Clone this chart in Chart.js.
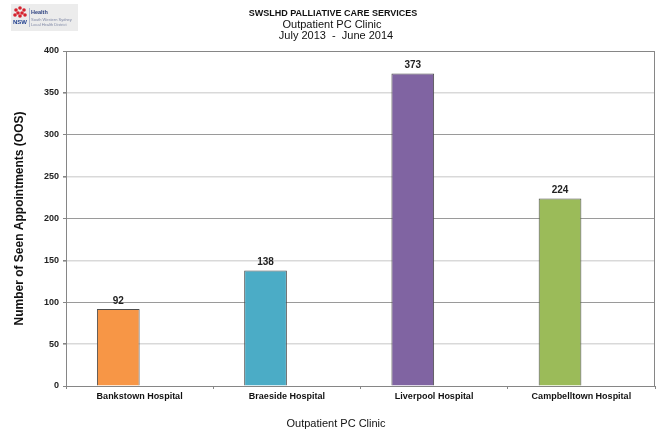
<!DOCTYPE html>
<html>
<head>
<meta charset="utf-8">
<script src="https://cdn.jsdelivr.net/npm/chart.js@4"></script>
<style>
  html, body { margin: 0; padding: 0; background: #fff; }
  #wrap { width: 661px; height: 432px; position: relative; }
</style>
</head>
<body>
<div id="wrap"><canvas id="myChart" width="661" height="432"></canvas></div>
<script>
// data
const clinics = ["Bankstown Hospital", "Braeside Hospital", "Liverpool Hospital", "Campbelltown Hospital"];
const seenAppointments = [92, 138, 373, 224];
const barColours = ["#F79646", "#4BACC6", "#8064A2", "#9BBB59"];
const yTicks = [0, 50, 100, 150, 200, 250, 300, 350, 400];
const titleLines = ["SWSLHD PALLIATIVE CARE SERVICES", "Outpatient PC Clinic", "July 2013  -  June 2014"];
const xTitle = "Outpatient PC Clinic";

const FONT = "Arial, 'Liberation Sans', sans-serif";

// header text + logo, plot frame, value labels
const extras = {
  id: "extras",
  beforeDatasetsDraw(chart) {
    const ctx = chart.ctx;
    const a = chart.chartArea;
    ctx.save();
    ctx.strokeStyle = "#868686";
    ctx.lineWidth = 1;
    ctx.beginPath();
    ctx.moveTo(a.left, a.top + 0.5);
    ctx.lineTo(a.right - 0.5, a.top + 0.5);
    ctx.lineTo(a.right - 0.5, a.bottom);
    ctx.stroke();
    ctx.restore();
  },
  afterDraw(chart) {
    const ctx = chart.ctx;
    ctx.save();
    // titles
    ctx.fillStyle = "#111";
    ctx.textAlign = "center";
    ctx.textBaseline = "middle";
    ctx.font = "bold 9px 'Liberation Sans Narrow', 'Arial Narrow', " + FONT;
    ctx.fillText(titleLines[0], 333, 14);
    ctx.font = "11px " + FONT;
    ctx.fillText(titleLines[1], 332, 24.5);
    ctx.fillText(titleLines[2], 336, 36);

    // x axis title (sits a little left of the plot centre in the original)
    ctx.fillText(xTitle, 336, 424);

    // logo
    ctx.fillStyle = "#ececec";
    ctx.fillRect(11, 4, 67, 27);
    ctx.fillStyle = "#d6232f";
    [[16, 10], [20, 8], [24, 10], [18, 13], [22, 13], [15, 15], [20, 16], [25, 15]].forEach(p => {
      ctx.beginPath();
      ctx.arc(p[0], p[1], 1.8, 0, Math.PI * 2);
      ctx.fill();
    });
    ctx.fillStyle = "#1f3f8f";
    ctx.font = "bold 6px " + FONT;
    ctx.textAlign = "center";
    ctx.fillText("NSW", 20, 22.5);
    ctx.fillStyle = "#9aa5c4";
    ctx.fillRect(29, 8, 0.7, 19);
    ctx.textAlign = "left";
    ctx.fillStyle = "#2a3f7f";
    ctx.font = "bold 5.5px " + FONT;
    ctx.fillText("Health", 31, 12);
    ctx.fillStyle = "#7f88a6";
    ctx.font = "4px " + FONT;
    ctx.fillText("South Western Sydney", 31, 19.5);
    ctx.fillText("Local Health District", 31, 24.5);

    // value labels
    const meta = chart.getDatasetMeta(0);
    ctx.fillStyle = "#222";
    ctx.textAlign = "center";
    ctx.textBaseline = "bottom";
    ctx.font = "bold 10px " + FONT;
    meta.data.forEach((bar, i) => {
      ctx.fillText(String(seenAppointments[i]), bar.x, bar.y - 3);
    });
    ctx.restore();
  }
};

const ctx = document.getElementById("myChart").getContext("2d");
const myChart = new Chart(ctx, {
  type: "bar",
  data: {
    labels: clinics,
    datasets: [
      {
        label: "Outpatient PC Clinic",
        data: seenAppointments,
        backgroundColor: barColours,
        borderColor: "#4d4d4d",
        borderWidth: 1,
        categoryPercentage: 0.58,
        barPercentage: 1
      },
      {
        // empty second series, leaves the bars sitting left of centre
        label: "",
        data: clinics.map(() => null),
        categoryPercentage: 0.58,
        barPercentage: 1
      }
    ]
  },
  options: {
    responsive: false,
    animation: false,
    layout: { padding: { top: 51, right: 6, bottom: 0, left: 0 } },
    plugins: {
      legend: { display: false },
      tooltip: { enabled: false }
    },
    scales: {
      x: {
        grid: {
          drawOnChartArea: false,
          drawTicks: true,
          tickLength: 3,
          color: "#868686"
        },
        border: { color: "#868686", width: 1 },
        ticks: {
          color: "#111",
          padding: 2,
          maxRotation: 0,
          font: { family: FONT, size: 9, weight: "bold" }
        },
        afterFit(scale) { scale.height = 46; }
      },
      y: {
        min: 0,
        max: 400,
        afterBuildTicks(scale) { scale.ticks = yTicks.map(v => ({ value: v })); },
        grid: {
          color: c => (c.tick && c.tick.value % 100 === 50) ? "#d9d9d9" : "#9a9a9a",
          lineWidth: c => (c.tick && c.tick.value % 100 === 50) ? 1.6 : 1,
          tickColor: "#868686",
          tickLength: 3
        },
        border: { color: "#868686", width: 1 },
        ticks: {
          color: "#222",
          padding: 4,
          font: { family: FONT, size: 9, weight: "bold" }
        },
        title: {
          display: true,
          text: "Number of Seen Appointments (OOS)",
          color: "#111",
          font: { family: FONT, size: 12, weight: "bold" },
          padding: { top: 12, bottom: 0 }
        },
        afterFit(scale) { scale.width = 66; }
      }
    }
  },
  plugins: [extras]
});
</script>
</body>
</html>
